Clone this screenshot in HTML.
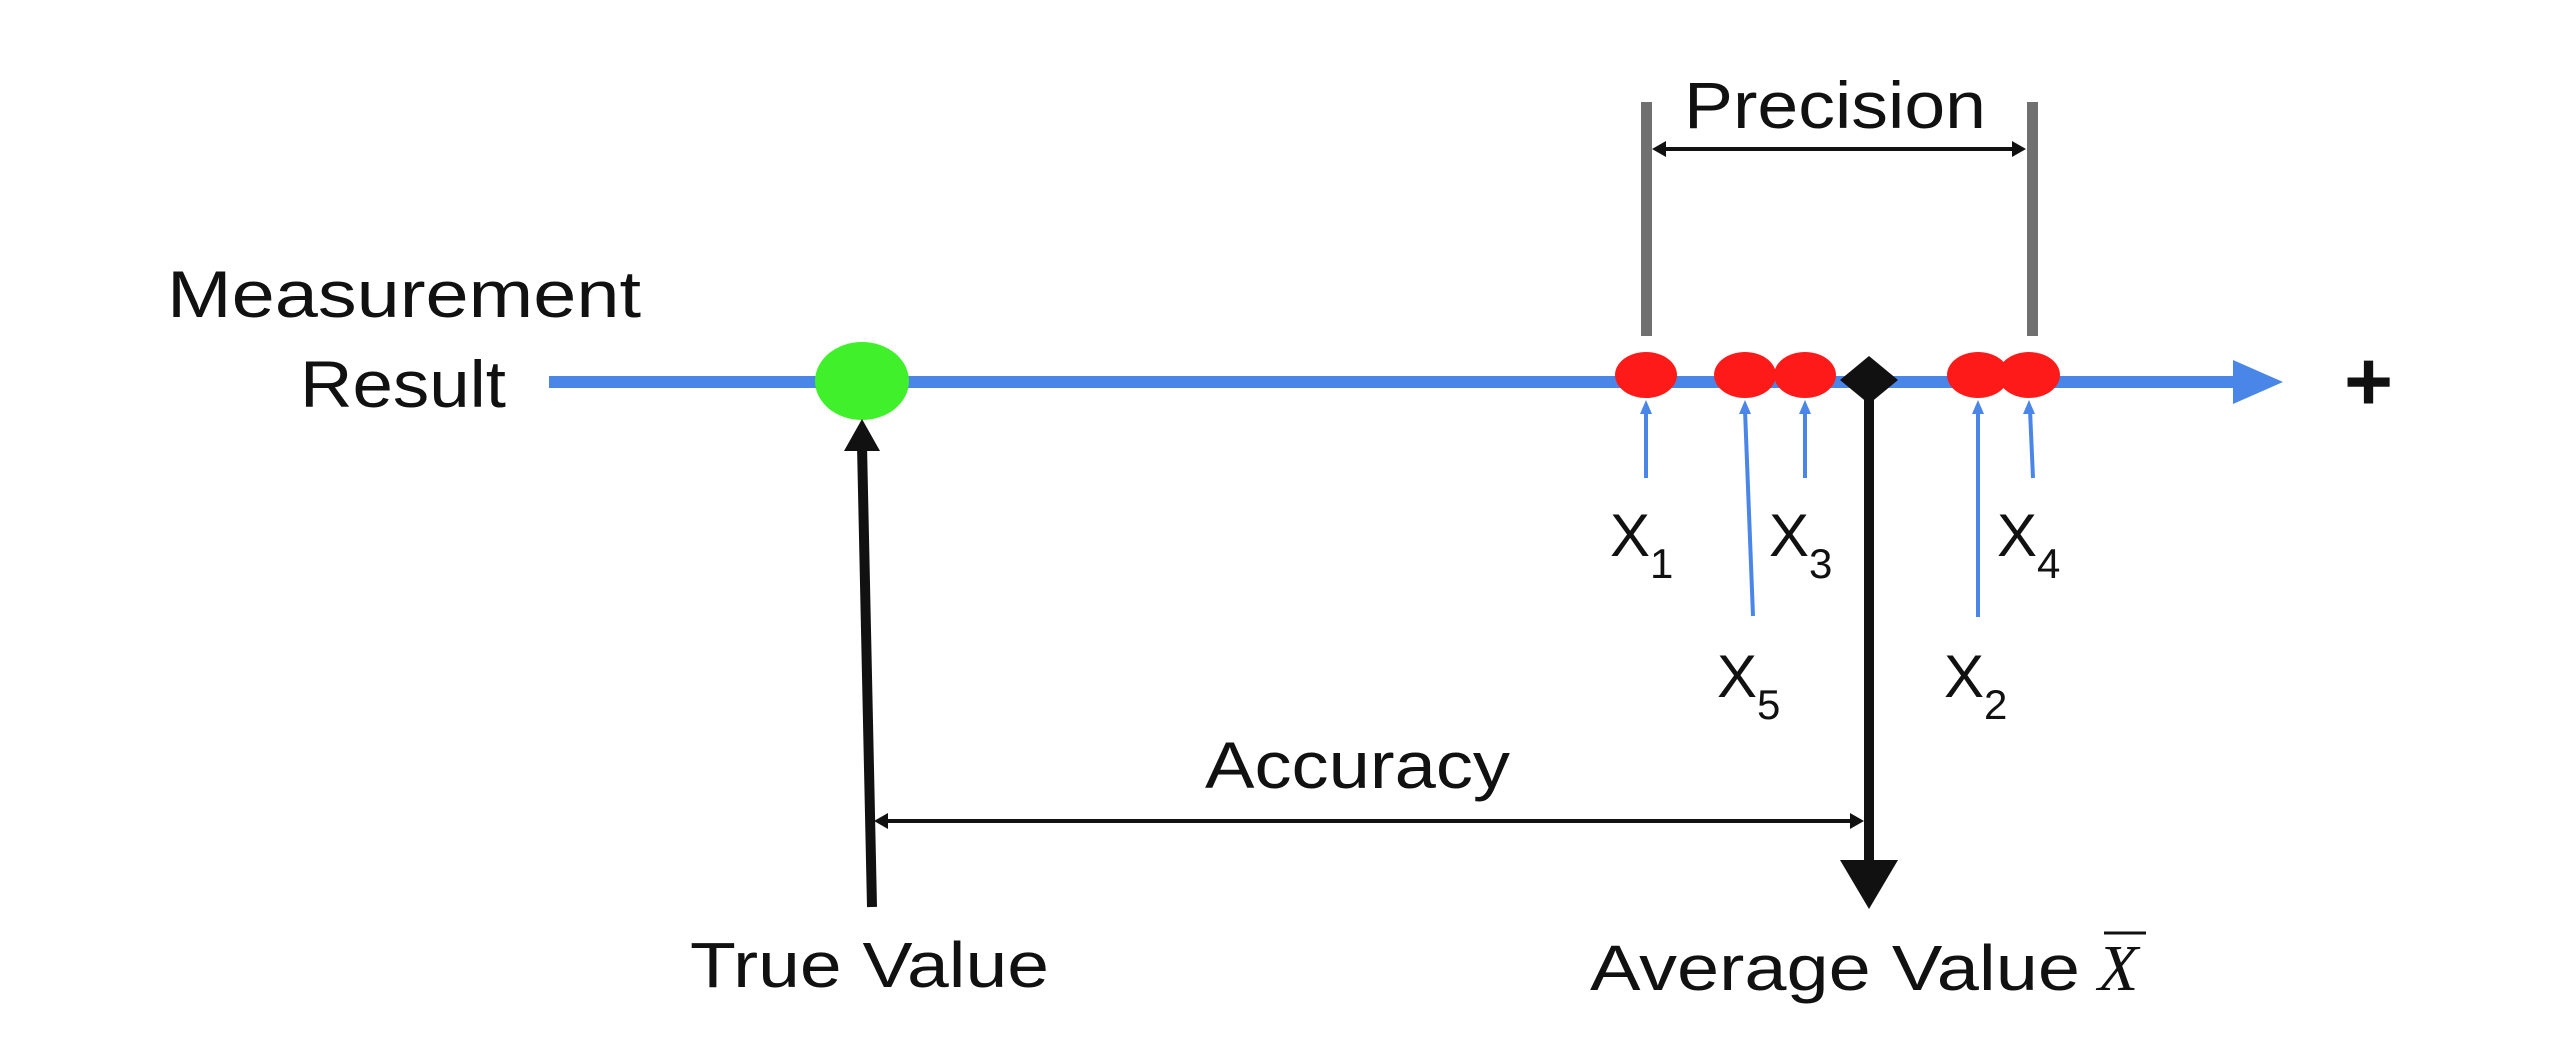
<!DOCTYPE html>
<html><head><meta charset="utf-8"><style>html,body{margin:0;padding:0;background:#fff;}svg{display:block}</style></head>
<body>
<svg width="2560" height="1064" viewBox="0 0 2560 1064" xmlns="http://www.w3.org/2000/svg" font-family="'Liberation Sans', sans-serif" fill="#111">
<rect width="2560" height="1064" fill="#fff"/>
<!-- labels -->
<text x="167" y="317" font-size="66" textLength="474" lengthAdjust="spacingAndGlyphs">Measurement</text>
<text x="300" y="407" font-size="66" textLength="206" lengthAdjust="spacingAndGlyphs">Result</text>
<text x="1684" y="128" font-size="66" textLength="302" lengthAdjust="spacingAndGlyphs">Precision</text>
<text x="1205" y="788" font-size="66" textLength="305" lengthAdjust="spacingAndGlyphs">Accuracy</text>
<text x="690" y="987" font-size="64" textLength="359" lengthAdjust="spacingAndGlyphs">True Value</text>
<text x="1590" y="990" font-size="64" textLength="490" lengthAdjust="spacingAndGlyphs">Average Value</text>
<text x="2098" y="990" font-size="66" font-style="italic" font-family="'Liberation Serif', serif">X</text>
<line x1="2104" y1="933" x2="2146" y2="933" stroke="#111" stroke-width="3"/>
<!-- gray bars -->
<rect x="1641" y="102" width="11" height="234" fill="#707070"/>
<rect x="2027" y="102" width="11" height="234" fill="#707070"/>
<!-- precision arrow -->
<line x1="1660" y1="149" x2="2018" y2="149" stroke="#111" stroke-width="4"/>
<polygon points="1652,149 1666,141 1666,157" fill="#111"/>
<polygon points="2026,149 2012,141 2012,157" fill="#111"/>
<!-- axis -->
<rect x="549" y="376" width="1690" height="12" fill="#4a86e8"/>
<polygon points="2233,360 2283,382 2233,404" fill="#4a86e8"/>
<text x="2344" y="410" font-size="84" font-weight="bold" fill="#111">+</text>
<!-- green -->
<ellipse cx="862" cy="381" rx="47" ry="39" fill="#40f02a"/>
<!-- true value arrow -->
<line x1="862" y1="445" x2="872" y2="907" stroke="#111" stroke-width="10"/>
<polygon points="862,419 844,451 880,451" fill="#111"/>
<!-- accuracy arrow -->
<line x1="882" y1="821" x2="1856" y2="821" stroke="#111" stroke-width="4"/>
<polygon points="874,821 888,813 888,829" fill="#111"/>
<polygon points="1864,821 1850,813 1850,829" fill="#111"/>
<!-- red points -->
<g fill="#ff1a1a">
<ellipse cx="1646" cy="375" rx="31" ry="23"/>
<ellipse cx="1745" cy="375" rx="31" ry="23"/>
<ellipse cx="1805" cy="375" rx="31" ry="23"/>
<ellipse cx="1978" cy="375" rx="31" ry="23"/>
<ellipse cx="2029" cy="375" rx="31" ry="23"/>
</g>
<!-- diamond and average arrow -->
<line x1="1869" y1="380" x2="1869" y2="868" stroke="#111" stroke-width="10"/>
<polygon points="1869,356 1898,380 1869,404 1840,380" fill="#111"/>
<polygon points="1840,860 1898,860 1869,909" fill="#111"/>
<!-- blue small arrows -->
<g stroke="#4a86e8" stroke-width="4" fill="none">
<line x1="1646" y1="478" x2="1646" y2="410"/>
<line x1="1753" y1="616" x2="1745" y2="410"/>
<line x1="1805" y1="478" x2="1805" y2="410"/>
<line x1="1978" y1="617" x2="1978" y2="410"/>
<line x1="2033" y1="478" x2="2030" y2="410"/>
</g>
<g fill="#4a86e8">
<polygon points="1646,400 1640,414 1652,414"/>
<polygon points="1745,400 1739,414 1751,414"/>
<polygon points="1805,400 1799,414 1811,414"/>
<polygon points="1978,400 1972,414 1984,414"/>
<polygon points="2029,400 2023,414 2035,414"/>
</g>
<!-- X labels -->
<g font-size="60">
<text x="1610" y="556">X<tspan font-size="42" dy="22">1</tspan></text>
<text x="1769" y="556">X<tspan font-size="42" dy="22">3</tspan></text>
<text x="1997" y="556">X<tspan font-size="42" dy="22">4</tspan></text>
<text x="1717" y="697">X<tspan font-size="42" dy="22">5</tspan></text>
<text x="1944" y="697">X<tspan font-size="42" dy="22">2</tspan></text>
</g>
</svg>
</body></html>
